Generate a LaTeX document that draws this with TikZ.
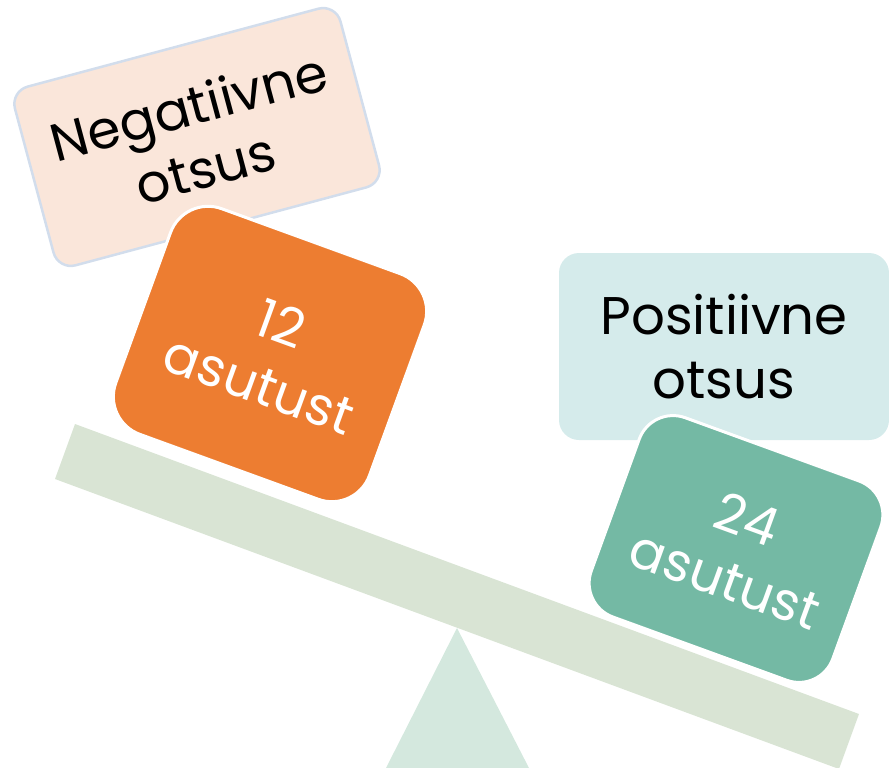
\documentclass[tikz,border=0pt]{standalone}
\usepackage{fontspec}
\setmainfont{Poppins}
\definecolor{beamc}{RGB}{217,228,212}
\definecolor{tric}{RGB}{212,232,222}
\definecolor{peach}{RGB}{250,230,218}
\definecolor{peachline}{RGB}{210,221,236}
\definecolor{orangec}{RGB}{237,125,49}
\definecolor{greenc}{RGB}{116,185,164}
\definecolor{cyanc}{RGB}{213,235,235}
\begin{document}
\begin{tikzpicture}[x=1pt,y=-1pt,
  card/.style={rectangle, inner sep=0pt, align=center, font=\fontsize{53}{64}\selectfont},
  labelcard/.style={card, text=black},
  countcard/.style={card, text=white, draw=white, line width=3pt, rounded corners=40pt, rotate=-20}]
\useasboundingbox (0,0) rectangle (889,768);
% question boxes
\node[labelcard, fill=peach, draw=peachline, line width=2.5pt, rounded corners=18pt,
      minimum width=337pt, minimum height=185pt, rotate=15] (neg) at (197,137) {Negatiivne\\otsus};
\node[labelcard, fill=cyanc, rounded corners=20pt,
      minimum width=330pt, minimum height=187pt] (pos) at (724,346.5) {Positiivne\\otsus};
% scale
\fill[tric] (457,628) coordinate (apex) -- (386,768) -- (529,768) -- cycle;
\fill[beamc] (75,424) -- (859,714) -- (839,769) -- (55,479) -- cycle;
% weights
\node[countcard, fill=orangec, minimum width=270pt, minimum height=240pt] (twelve) at (270,354) {12\\asutust};
\node[countcard, fill=greenc, minimum width=257pt, minimum height=212pt, rounded corners=36pt] (twentyfour) at (736,549) {24\\asutust};
\end{tikzpicture}
\end{document}
